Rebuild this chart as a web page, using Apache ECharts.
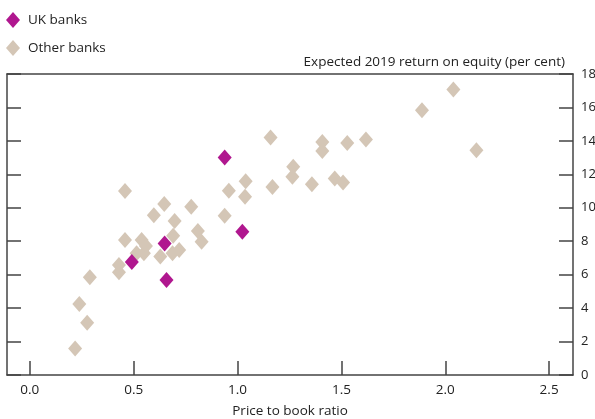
<!DOCTYPE html>
<html><head><meta charset="utf-8">
<script src="https://cdn.jsdelivr.net/npm/echarts@6/dist/echarts.min.js"></script>
<style>html,body{margin:0;padding:0;background:#fff}#c{width:595px;height:419px}</style>
</head><body><div id="c"></div>
<script>
const xTicks = [0, 0.5, 1.0, 1.5, 2.0, 2.5];
const ukBanksX = [0.938, 0.649, 0.491, 0.658, 1.023];
const ukBanksY = [13.0, 7.87, 6.76, 5.68, 8.57];
const otherBanksX = [0.218,0.276,0.238,0.289,0.429,0.429,0.458,0.458,0.514,0.538,0.549,0.559,0.597,0.628,0.647,0.687,0.690,0.697,0.719,0.777,0.809,0.827,0.938,0.958,1.036,1.039,1.159,1.168,1.264,1.268,1.358,1.408,1.408,1.468,1.508,1.528,1.618,1.888,2.039,2.150];
const otherBanksY = [1.58,3.13,4.25,5.84,6.14,6.58,8.07,11.0,7.28,8.07,7.28,7.71,9.55,7.08,10.22,7.28,8.33,9.21,7.47,10.06,8.61,7.97,9.52,11.02,10.66,11.59,14.2,11.25,11.85,12.45,11.41,13.94,13.4,11.75,11.51,13.88,14.08,15.83,17.08,13.44];

const FONT = 'Open Sans';
const FS = 13.5;
const lineStyle = {color:'#444', width:1.5};
const chart = echarts.init(document.getElementById('c'), null, {renderer:'canvas'});
chart.setOption({
  animation:false,
  textStyle:{fontFamily:FONT},
  legend:{
    orient:'vertical', left:1, top:7, itemGap:12, itemWidth:14, itemHeight:16,
    icon:'diamond',
    textStyle:{fontFamily:FONT, fontSize:FS, color:'#222', padding:[0,0,0,3]},
    data:['UK banks','Other banks']
  },
  grid:{left:7, right:22, top:74, bottom:44, outerBoundsMode:'none', containLabel:false},
  xAxis:[{
    type:'value', position:'bottom', min:-0.11, max:2.615,
    name:'Price to book ratio', nameLocation:'middle', nameGap:29,
    nameTextStyle:{fontFamily:FONT, fontSize:FS, color:'#222'},
    axisLine:{show:true, onZero:false, lineStyle:lineStyle},
    axisTick:{show:true, inside:true, length:14, lineStyle:lineStyle, customValues:xTicks},
    axisLabel:{show:true, margin:8, fontFamily:FONT, fontSize:FS, color:'#222', customValues:xTicks, formatter:v=>v.toFixed(1)},
    splitLine:{show:false}
  },{
    type:'value', position:'top', min:-0.11, max:2.615,
    axisLine:{show:true, onZero:false, lineStyle:lineStyle},
    axisTick:{show:false}, axisLabel:{show:false}, splitLine:{show:false}
  }],
  yAxis:[{
    type:'value', position:'left', min:0, max:18, interval:2,
    axisLine:{show:true, onZero:false, lineStyle:lineStyle},
    axisTick:{show:true, inside:true, length:14, lineStyle:lineStyle},
    axisLabel:{show:false}, splitLine:{show:false}
  },{
    type:'value', position:'right', min:0, max:18, interval:2,
    name:'Expected 2019 return on equity (per cent)', nameLocation:'end', nameGap:5,
    nameTextStyle:{fontFamily:FONT, fontSize:FS, color:'#222', align:'right', verticalAlign:'bottom', padding:[0,8,0,0]},
    axisLine:{show:true, onZero:false, lineStyle:lineStyle},
    axisTick:{show:true, inside:true, length:14, lineStyle:lineStyle},
    axisLabel:{show:true, margin:8, fontFamily:FONT, fontSize:13, color:'#222'},
    splitLine:{show:false}
  }],
  series:[{
    name:'Other banks', type:'scatter', xAxisIndex:0, yAxisIndex:0, symbol:'diamond', symbolSize:[14,16],
    itemStyle:{color:'#D4C6B6', opacity:1},
    data: otherBanksX.map((x,i)=>[x, otherBanksY[i]])
  },{
    name:'UK banks', type:'scatter', xAxisIndex:0, yAxisIndex:0, symbol:'diamond', symbolSize:[14,16],
    itemStyle:{color:'#B0178F', opacity:1},
    data: ukBanksX.map((x,i)=>[x, ukBanksY[i]])
  }]
});
</script></body></html>
